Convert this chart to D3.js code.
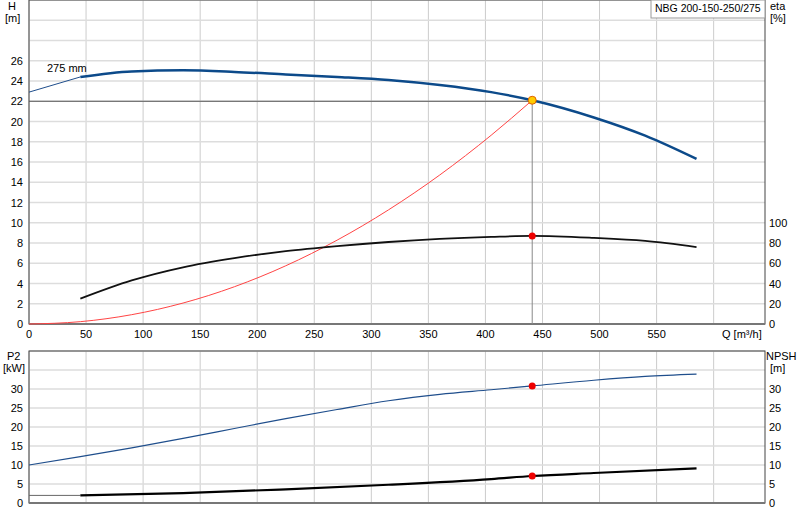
<!DOCTYPE html><html><head><meta charset="utf-8"><script src="https://cdn.jsdelivr.net/npm/d3@7"></script>
<style>body{margin:0;background:#fff}text{font-family:Arial,"Liberation Sans",sans-serif;font-size:11px;fill:#000}</style></head><body><svg id="c" width="800" height="520"></svg><script>
const hQ=[45,90,135,180,225,270,315,360,405,441,495,540,585];
const hH=[24.4,24.95,25.05,24.9,24.65,24.4,24.1,23.6,22.9,22.1,20.4,18.6,16.3];
const hExtQ=[0,45], hExtH=[22.9,24.4];
const sysQ=[0,45,90,135,180,225,270,315,360,405,441];
const sysH=[0,0.23,0.92,2.07,3.68,5.75,8.28,11.27,14.72,18.64,22.1];
const etaQ=[45,90,135,180,225,270,315,360,405,441,495,540,585];
const etaV=[25,43,56,65,72,77,81,84,86,87,85,82,76];
const p2Q=[0,45,90,135,180,225,270,315,360,405,441,495,540,585];
const p2V=[10,12.2,14.5,17,19.6,22.2,24.6,26.9,28.6,29.8,30.8,32.3,33.3,33.9];
const npExtQ=[0,45], npExtV=[2,2];
const npQ=[45,135,225,315,405,441,495,585];
const npV=[2,2.6,3.6,4.8,6.3,7.1,7.9,9.1];
const duty={q:441,h:22.1,eta:87,p2:30.8,np:7.1};
const xTicks=[0,50,100,150,200,250,300,350,400,450,500,550];
const hTicks=[0,2,4,6,8,10,12,14,16,18,20,22,24,26];
const etaTicks=[0,20,40,60,80,100];
const bTicks=[0,5,10,15,20,25,30];
const svg=d3.select("#c");
const L=29,R=765;
const x=d3.scaleLinear().domain([0,645]).range([L,R]);
const yH=d3.scaleLinear().domain([0,32]).range([324,0]);
const yE=d3.scaleLinear().domain([0,320]).range([324,0]);
const yB=d3.scaleLinear().domain([0,40]).range([503,351]);
const grid=(y0,y1,yscale,ticks)=>{
  d3.range(0,650,50).forEach(v=>svg.append("line").attr("x1",x(v)).attr("x2",x(v)).attr("y1",y0).attr("y2",y1).attr("stroke","#ccc"));
  ticks.forEach(v=>svg.append("line").attr("x1",L).attr("x2",R).attr("y1",yscale(v)).attr("y2",yscale(v)).attr("stroke","#ddd").attr("stroke-width",1.5));
};
grid(0,324,yH,d3.range(0,33,2));
grid(351,503,yB,d3.range(0,41,5));
svg.append("rect").attr("x",L).attr("y",0).attr("width",R-L).attr("height",324).attr("fill","none").attr("stroke","#444");
svg.append("rect").attr("x",L).attr("y",351).attr("width",R-L).attr("height",152).attr("fill","none").attr("stroke","#444");
svg.append("line").attr("x1",L).attr("x2",R).attr("y1",324).attr("y2",324).attr("stroke","#777").attr("stroke-width",2);
svg.append("line").attr("x1",L).attr("x2",R).attr("y1",503).attr("y2",503).attr("stroke","#777").attr("stroke-width",2);
hTicks.forEach(v=>{svg.append("text").attr("x",L-6).attr("y",yH(v)+4).attr("text-anchor","end").text(v);});
etaTicks.forEach(v=>{svg.append("text").attr("x",R+4).attr("y",yE(v)+4).text(v);});
bTicks.forEach(v=>{svg.append("text").attr("x",L-6).attr("y",yB(v)+4).attr("text-anchor","end").text(v);
 svg.append("text").attr("x",R+4).attr("y",yB(v)+4).text(v);});
xTicks.forEach(v=>svg.append("text").attr("x",x(v)).attr("y",338).attr("text-anchor","middle").text(v));
svg.append("text").attr("x",722).attr("y",338).text("Q [m³/h]");
svg.append("text").attr("x",8).attr("y",10).text("H");
svg.append("text").attr("x",5).attr("y",22).text("[m]");
svg.append("text").attr("x",770).attr("y",10).text("eta");
svg.append("text").attr("x",770).attr("y",22).text("[%]");
svg.append("text").attr("x",7).attr("y",360).text("P2");
svg.append("text").attr("x",3).attr("y",372).text("[kW]");
svg.append("text").attr("x",766).attr("y",360).text("NPSH");
svg.append("text").attr("x",770).attr("y",372).text("[m]");
svg.append("rect").attr("x",651).attr("y",0).attr("width",114).attr("height",18).attr("fill","#fff").attr("stroke","#999");
svg.append("text").attr("x",655).attr("y",12).style("font-size","10.5px").text("NBG 200-150-250/275");
svg.append("text").attr("x",47).attr("y",72).text("275 mm");
svg.append("line").attr("x1",L).attr("x2",x(duty.q)).attr("y1",yH(22)).attr("y2",yH(22)).attr("stroke","#555");
svg.append("line").attr("x1",x(duty.q)).attr("x2",x(duty.q)).attr("y1",yH(22)).attr("y2",324).attr("stroke","#888");
const line=(qs,vs,ys,col,w)=>svg.append("path").attr("d",d3.line().curve(d3.curveMonotoneX).x((d,i)=>x(qs[i])).y(d=>ys(d))(vs)).attr("fill","none").attr("stroke",col).attr("stroke-width",w);
line(sysQ,sysH,yH,"#f44",1);
line(hExtQ,hExtH,yH,"#1f4e8c",1);
line(hQ,hH,yH,"#0c4a8a",2.5);
line(etaQ,etaV,yE,"#111",1.8);
line(p2Q,p2V,yB,"#1f4e8c",1.2);
line(npExtQ,npExtV,yB,"#666",1);
line(npQ,npV,yB,"#000",2.2);
svg.append("circle").attr("cx",x(duty.q)).attr("cy",yH(duty.h)).attr("r",4).attr("fill","#ffcc00").attr("stroke","#e06000");
[[yE,duty.eta],[yB,duty.p2],[yB,duty.np]].forEach(([s,v])=>svg.append("circle").attr("cx",x(duty.q)).attr("cy",s(v)).attr("r",3.5).attr("fill","#e00"));
</script></body></html>
